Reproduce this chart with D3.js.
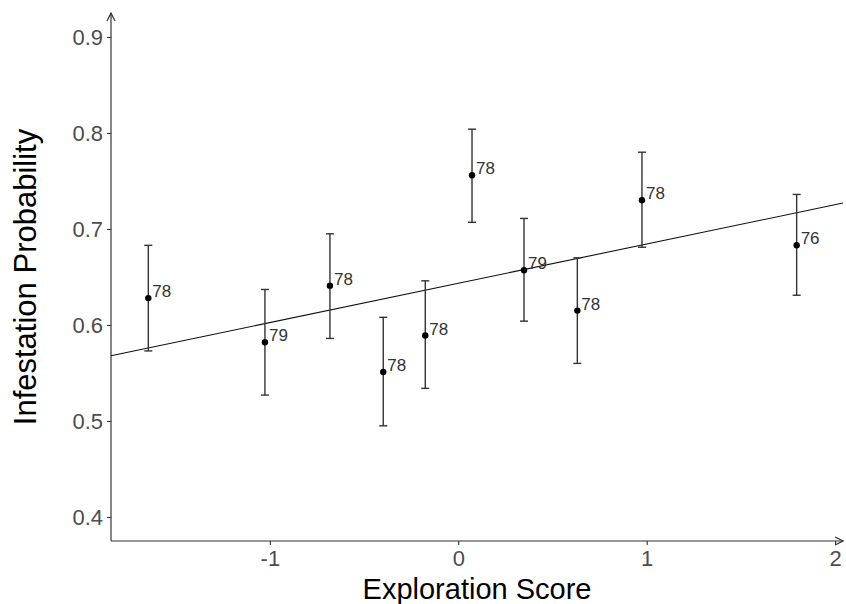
<!DOCTYPE html>
<html>
<head>
<meta charset="utf-8">
<script src="https://cdn.jsdelivr.net/npm/d3@7"></script>
<style>
  body { margin: 0; background: #fff; }
  svg { display: block; font-family: "Liberation Sans", Arial, sans-serif; }
</style>
</head>
<body>
<div id="chart"></div>
<script>
// binned exploration score vs infestation probability
const scoreX = [-1.645, -1.026, -0.681, -0.398, -0.175, 0.073, 0.349, 0.632, 0.975, 1.796];
const probY = [0.628, 0.582, 0.641, 0.551, 0.589, 0.756, 0.657, 0.615, 0.730, 0.683];
const upperY = [0.683, 0.637, 0.695, 0.608, 0.646, 0.804, 0.711, 0.670, 0.780, 0.736];
const lowerY = [0.573, 0.527, 0.586, 0.495, 0.534, 0.707, 0.604, 0.560, 0.681, 0.631];
const counts = [78, 79, 78, 78, 78, 78, 79, 78, 78, 76];

// fitted line, at both ends of the x range
const fitX = [-1.843, 2.042];
const fitY = [0.568, 0.727];

const xTicks = [-1, 0, 1, 2];
const yTicks = [0.4, 0.5, 0.6, 0.7, 0.8, 0.9];

const width = 846, height = 604;
const plotLeft = 111, plotRight = 843, plotTop = 13, plotBottom = 541;

const x = d3.scaleLinear().domain([-1.843, 2.042]).range([plotLeft, plotRight]);
const y = d3.scaleLinear().domain([0.375, 0.925]).range([plotBottom, plotTop]);

const svg = d3.select("#chart").append("svg")
    .attr("width", width)
    .attr("height", height);

// open arrow heads for the axis lines
svg.append("defs").append("marker")
    .attr("id", "arrow")
    .attr("viewBox", "0 0 10 10")
    .attr("refX", 9).attr("refY", 5)
    .attr("markerWidth", 10).attr("markerHeight", 10)
    .attr("markerUnits", "userSpaceOnUse")
    .attr("orient", "auto")
    .append("path")
    .attr("d", "M1,1L9,5L1,9")
    .attr("fill", "none")
    .attr("stroke", "#333")
    .attr("stroke-width", 1.2);

const data = scoreX.map((v, i) => ({
    x: v, y: probY[i], hi: upperY[i], lo: lowerY[i], n: counts[i]
}));

// axes (plain hyphen for negatives, like the original)
const xAxis = svg.append("g")
    .attr("transform", `translate(0,${plotBottom})`)
    .call(d3.axisBottom(x).tickValues(xTicks).tickSize(4).tickPadding(5).tickFormat(d => String(d)));
const yAxis = svg.append("g")
    .attr("transform", `translate(${plotLeft},0)`)
    .call(d3.axisLeft(y).tickValues(yTicks).tickSize(4).tickPadding(4).tickFormat(d => d.toFixed(1)));

[xAxis, yAxis].forEach(a => {
    a.select(".domain").remove();
    a.selectAll(".tick line").attr("stroke", "#333").attr("stroke-width", 1.1);
    a.selectAll(".tick text")
        .attr("fill", "#4d4d4d")
        .style("font-size", "22px")
        .style("font-family", "'Liberation Sans', Arial, sans-serif");
});

svg.append("line")
    .attr("x1", plotLeft).attr("y1", plotBottom)
    .attr("x2", plotLeft).attr("y2", plotTop)
    .attr("stroke", "#333").attr("stroke-width", 1.2)
    .attr("marker-end", "url(#arrow)");
svg.append("line")
    .attr("x1", plotLeft).attr("y1", plotBottom)
    .attr("x2", plotRight).attr("y2", plotBottom)
    .attr("stroke", "#333").attr("stroke-width", 1.2)
    .attr("marker-end", "url(#arrow)");

// regression line
svg.append("path")
    .datum(fitX.map((v, i) => [v, fitY[i]]))
    .attr("d", d3.line().x(d => x(d[0])).y(d => y(d[1])))
    .attr("fill", "none")
    .attr("stroke", "#111")
    .attr("stroke-width", 1.1);

// error bars
const bars = svg.append("g").attr("stroke", "#333").attr("stroke-width", 1.4);
bars.selectAll(".stem").data(data).enter().append("line")
    .attr("x1", d => x(d.x)).attr("x2", d => x(d.x))
    .attr("y1", d => y(d.lo)).attr("y2", d => y(d.hi));
bars.selectAll(".capHi").data(data).enter().append("line")
    .attr("x1", d => x(d.x) - 4).attr("x2", d => x(d.x) + 4)
    .attr("y1", d => y(d.hi)).attr("y2", d => y(d.hi));
bars.selectAll(".capLo").data(data).enter().append("line")
    .attr("x1", d => x(d.x) - 4).attr("x2", d => x(d.x) + 4)
    .attr("y1", d => y(d.lo)).attr("y2", d => y(d.lo));

// points
svg.append("g").selectAll("circle").data(data).enter().append("circle")
    .attr("cx", d => x(d.x))
    .attr("cy", d => y(d.y))
    .attr("r", 3.2)
    .attr("fill", "#000");

// sample size labels
svg.append("g").selectAll("text").data(data).enter().append("text")
    .attr("x", d => x(d.x) + 4)
    .attr("y", d => y(d.y) - 1)
    .attr("fill", "#333")
    .style("font-size", "17px")
    .text(d => d.n);

// axis titles
svg.append("text")
    .attr("x", (plotLeft + plotRight) / 2)
    .attr("y", 599)
    .attr("text-anchor", "middle")
    .attr("fill", "#000")
    .style("font-size", "29px")
    .text("Exploration Score");

svg.append("text")
    .attr("transform", `translate(36,${(plotTop + plotBottom) / 2}) rotate(-90)`)
    .attr("text-anchor", "middle")
    .attr("fill", "#000")
    .style("font-size", "31px")
    .text("Infestation Probability");
</script>
</body>
</html>
